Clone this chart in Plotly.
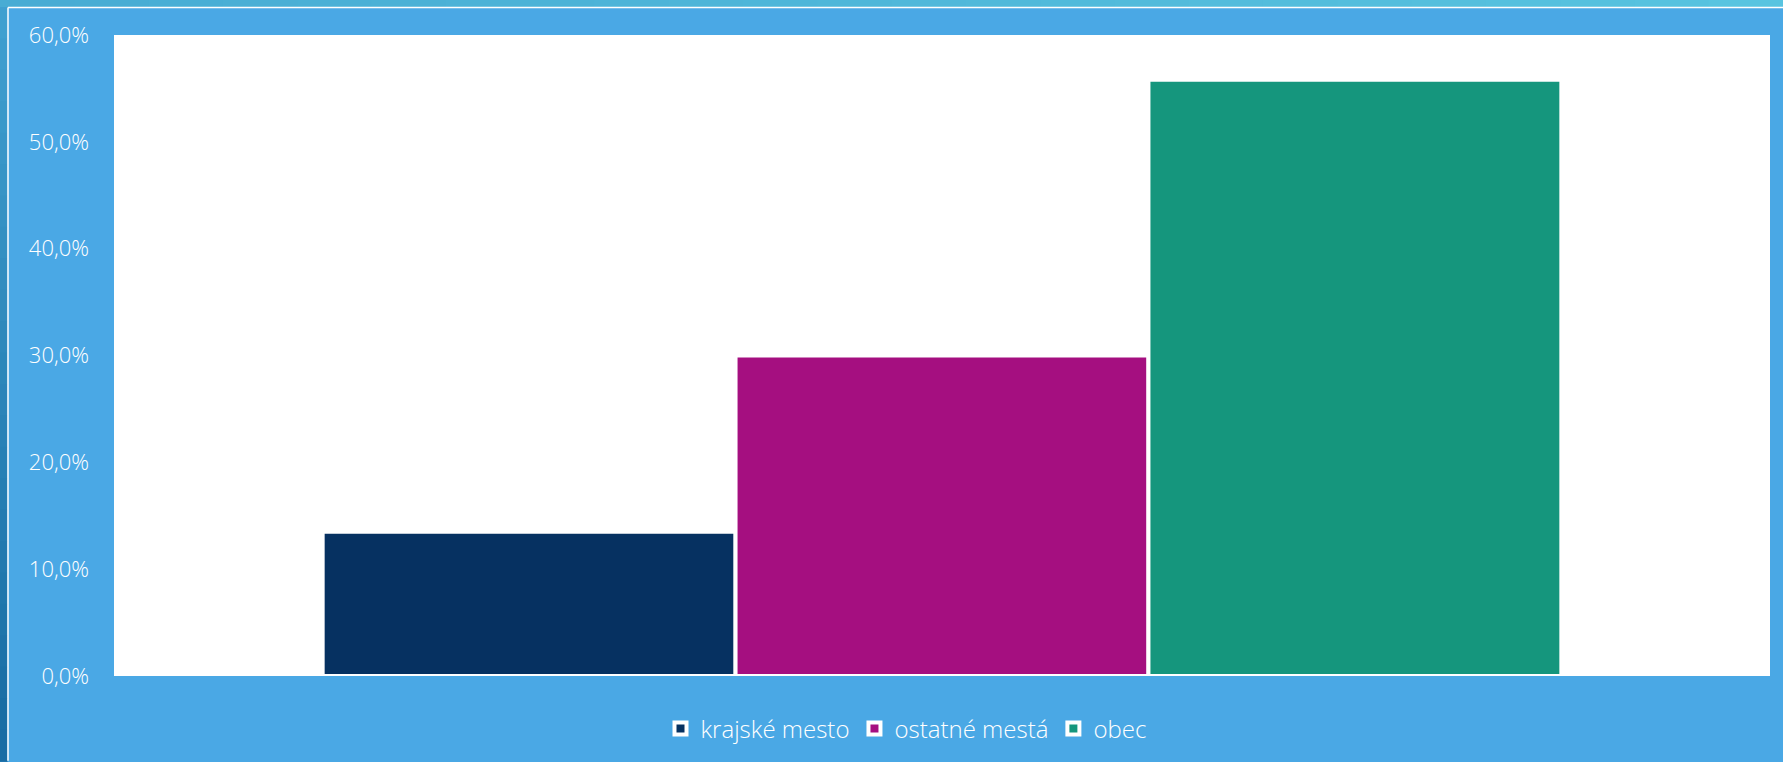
import plotly.graph_objects as go

# ---- data ----
categories = ["krajské mesto", "ostatné mestá", "obec"]
values = [0.135, 0.300, 0.558]
colors = ["#063161", "#A50F80", "#15967D"]
y_ticks = [0, 0.1, 0.2, 0.3, 0.4, 0.5, 0.6]

W, H = 1783, 762
L, R, T, B = 114, 13, 35, 85
PW, PH = W - L - R, H - T - B


def px(x):
    return (x - L) / PW


def py(y):
    return (H - B - y) / PH


FONT = "Open Sans"

fig = go.Figure()
for name, v, c in zip(categories, values, colors):
    fig.add_trace(go.Bar(
        x=[""], y=[v], name=name,
        marker=dict(color=c, line=dict(color="white", width=4)),
    ))

shapes = []
# top band of slide background (gradient left->right)
n = 24
c0, c1 = (72, 172, 212), (88, 196, 224)
for i in range(n):
    t = i / (n - 1)
    col = "rgb(%d,%d,%d)" % tuple(int(a + (b - a) * t) for a, b in zip(c0, c1))
    shapes.append(dict(type="rect", xref="paper", yref="paper",
                       x0=px(W * i / n), x1=px(W * (i + 1) / n + 1),
                       y0=py(0), y1=py(7), fillcolor=col, line=dict(width=0), layer="above"))
# left band (gradient top->bottom)
c0, c1 = (64, 160, 208), (24, 108, 164)
for i in range(n):
    t = i / (n - 1)
    col = "rgb(%d,%d,%d)" % tuple(int(a + (b - a) * t) for a, b in zip(c0, c1))
    shapes.append(dict(type="rect", xref="paper", yref="paper",
                       x0=px(0), x1=px(7.5),
                       y0=py(7 + (H - 7) * i / n), y1=py(7 + (H - 7) * (i + 1) / n + 1),
                       fillcolor=col, line=dict(width=0), layer="above"))
# white frame lines of chart area
shapes.append(dict(type="line", xref="paper", yref="paper",
                   x0=px(8), x1=px(W), y0=py(7.5), y1=py(7.5),
                   line=dict(color="white", width=1.5), layer="above"))
shapes.append(dict(type="line", xref="paper", yref="paper",
                   x0=px(8), x1=px(8), y0=py(7.5), y1=py(H),
                   line=dict(color="white", width=1.5), layer="above"))

fig.update_layout(
    width=W, height=H,
    margin=dict(l=L, r=R, t=T, b=B, pad=0),
    paper_bgcolor="#4AA8E5",
    plot_bgcolor="white",
    separators=", ",
    barmode="group",
    bargap=0.252,
    bargroupgap=0.0,
    font=dict(family=FONT, color="white", size=22, weight=300),
    showlegend=True,
    legend=dict(orientation="h", xref="paper", yref="paper",
                x=px(906), y=py(729), xanchor="center", yanchor="middle",
                font=dict(family=FONT, size=24, color="white", weight=300),
                bgcolor="rgba(0,0,0,0)",
                itemwidth=30, traceorder="normal"),
    xaxis=dict(showticklabels=False, showgrid=False, zeroline=False,
               showline=False, fixedrange=True),
    yaxis=dict(range=[0, 0.6], tickvals=y_ticks, tickformat=".1%",
               showgrid=False, zeroline=False, showline=False,
               ticks="", ticklabelstandoff=24,
               tickfont=dict(family=FONT, size=22, color="white", weight=300)),
    shapes=shapes,
)

fig.write_html("out.html", config={"displayModeBar": False},
               post_script="document.body.style.margin='0';")
